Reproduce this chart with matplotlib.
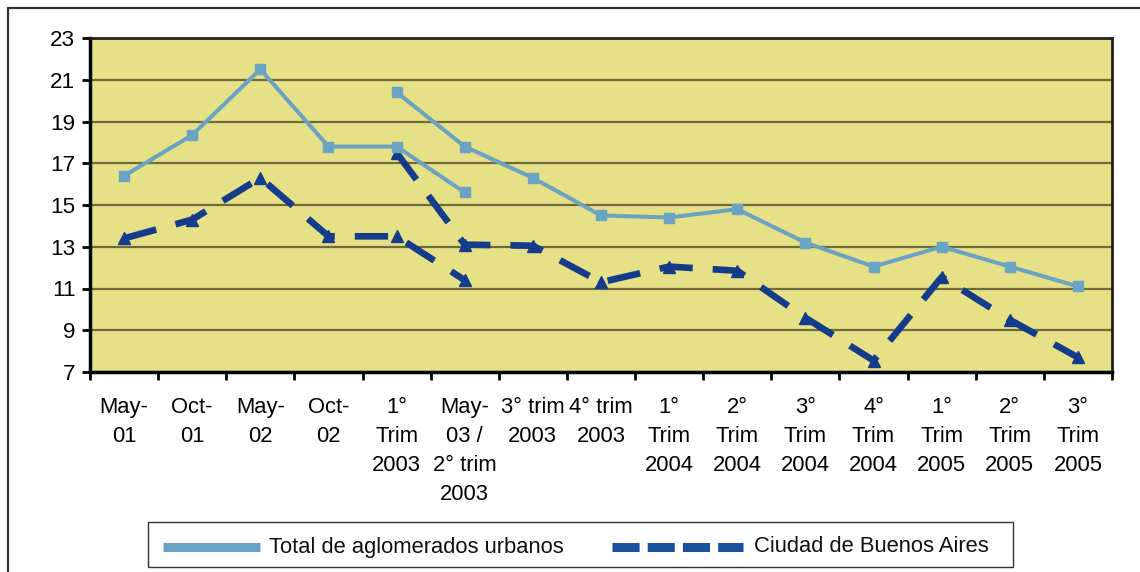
import matplotlib
matplotlib.use("Agg")
import matplotlib.pyplot as plt
from matplotlib.lines import Line2D
from matplotlib.patches import Rectangle
import numpy as np

plt.rcParams['font.family'] = ['Liberation Sans', 'DejaVu Sans']

categories = ["May-\n01", "Oct-\n01", "May-\n02", "Oct-\n02", "1°\nTrim\n2003",
              "May-\n03 /\n2° trim\n2003", "3° trim\n2003", "4° trim\n2003",
              "1°\nTrim\n2004", "2°\nTrim\n2004", "3°\nTrim\n2004", "4°\nTrim\n2004",
              "1°\nTrim\n2005", "2°\nTrim\n2005", "3°\nTrim\n2005"]

# First methodology segment (May-01 .. May-03)
total_seg1 = [16.4, 18.35, 21.5, 17.8, 17.8, 15.6]
ciudad_seg1 = [13.4, 14.3, 16.3, 13.5, 13.5, 11.4]
# Second methodology segment (1° Trim 2003 .. 3° Trim 2005)
total_seg2 = [20.4, 17.8, 16.3, 14.5, 14.4, 14.8, 13.2, 12.05, 13.0, 12.05, 11.1]
ciudad_seg2 = [17.5, 13.1, 13.05, 11.3, 12.05, 11.85, 9.6, 7.55, 11.55, 9.5, 7.7]

series_names = ["Total de aglomerados urbanos", "Ciudad de Buenos Aires"]
yticks = [7, 9, 11, 13, 15, 17, 19, 21, 23]

c_total = "#6AA3C4"
c_ciudad = "#153C8A"
bg = "#E6E186"
grid_c = "#6E6B3F"
FS = 15.8

W, H = 1140, 572
fig = plt.figure(figsize=(W / 100, H / 100), dpi=100)
fig.patch.set_facecolor("white")

# outer border
fig.patches.append(Rectangle((8 / W, -0.05), 1.2, 1 - 8 / H + 0.05, transform=fig.transFigure,
                             fill=False, edgecolor="#333333", linewidth=1.6))

L, R, T, B = 90, 1112, 38, 372
ax = fig.add_axes([L / W, 1 - B / H, (R - L) / W, (B - T) / H])
ax.set_facecolor(bg)

n = len(categories)
x = np.arange(n)
x1 = x[:6]
x2 = x[4:]

ax.plot(x1, total_seg1, color=c_total, lw=2.9, marker="s", ms=7.8, mec=c_total, mfc=c_total, zorder=4)
ax.plot(x2, total_seg2, color=c_total, lw=2.9, marker="s", ms=7.8, mec=c_total, mfc=c_total, zorder=4)
ax.plot(x1, ciudad_seg1, color=c_ciudad, lw=4.8, dashes=(5.0, 3.0), marker="^", ms=8.5, mec=c_ciudad, mfc=c_ciudad, zorder=3)
ax.plot(x2, ciudad_seg2, color=c_ciudad, lw=4.8, dashes=(5.0, 3.0), marker="^", ms=8.5, mec=c_ciudad, mfc=c_ciudad, zorder=3)

ax.set_xlim(-0.5, n - 0.5)
ax.set_ylim(7, 23)
ax.set_yticks(yticks)
ax.set_yticklabels([str(v) for v in yticks], fontsize=16.2)
ax.yaxis.grid(True, color=grid_c, lw=1.6)
ax.set_axisbelow(True)

ax.set_xticks(x)
ax.set_xticklabels(categories, fontsize=FS, linespacing=1.5, multialignment="center", va="top")
ax.tick_params(axis="x", which="major", length=0, pad=18)
ax.set_xticks(np.arange(n + 1) - 0.5, minor=True)
ax.tick_params(axis="x", which="minor", length=6, width=2, direction="out", color="black")
ax.tick_params(axis="y", length=6, width=2, direction="out", pad=4.5)

for s in ["left", "bottom"]:
    ax.spines[s].set_linewidth(2.5)
    ax.spines[s].set_color("black")
for s in ["top", "right"]:
    ax.spines[s].set_linewidth(2)
    ax.spines[s].set_color("#222222")

# legend box
lx0, lx1, ly0, ly1 = 148, 1013, 522, 567
fig.patches.append(Rectangle((lx0 / W, 1 - ly1 / H), (lx1 - lx0) / W, (ly1 - ly0) / H,
                             transform=fig.transFigure, fill=True, facecolor="white",
                             edgecolor="#333333", linewidth=1.0))
ly = 1 - 547 / H
fig.lines.append(Line2D([163 / W, 260 / W], [ly, ly], transform=fig.transFigure,
                        color=c_total, lw=6.5, solid_capstyle="butt"))
fig.text(269 / W, ly, series_names[0], fontsize=FS, va="center", ha="left", color="#111111")
fig.lines.append(Line2D([612 / W, 743 / W], [ly, ly], transform=fig.transFigure,
                        color="#1A52A0", lw=6.5, dashes=(3.0, 0.9), solid_capstyle="butt"))
fig.text(754 / W, ly, series_names[1], fontsize=FS, va="center", ha="left", color="#111111")

fig.savefig("out.png", dpi=100)
